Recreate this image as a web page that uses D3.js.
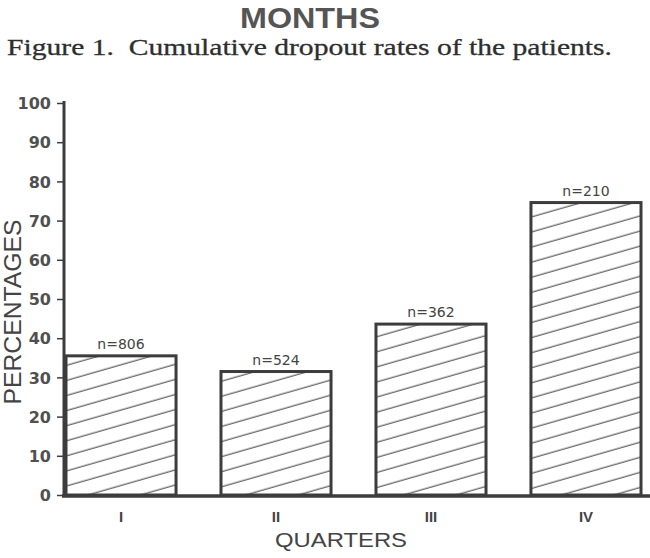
<!DOCTYPE html>
<html><head><meta charset="utf-8">
<script src="https://cdn.jsdelivr.net/npm/d3@7"></script>
<style>body{margin:0;background:#fff}svg{display:block}</style>
</head><body>
<svg id="c" width="650" height="558"></svg>
<script>
const categories = ["I", "II", "III", "IV"];
const values = [35.5, 31.5, 43.6, 74.6];
const nLabels = ["n=806", "n=524", "n=362", "n=210"];
const yTicks = [0, 10, 20, 30, 40, 50, 60, 70, 80, 90, 100];

const ink = "#3c3c3c";
const svg = d3.select("#c");
const y = d3.scaleLinear().domain([0, 100]).range([495, 103]);
const x = d3.scaleBand().domain(categories).range([66, 641]).paddingInner(0.29).paddingOuter(0);

// hatch pattern
const defs = svg.append("defs");
const pat = defs.append("pattern").attr("id", "hatch").attr("patternUnits", "userSpaceOnUse")
  .attr("width", 14.5).attr("height", 14.5).attr("patternTransform", "rotate(-16)");
pat.append("line").attr("x1", 0).attr("y1", 7).attr("x2", 14.5).attr("y2", 7)
  .attr("stroke", "#4a4a4a").attr("stroke-width", 1.1);

// titles
svg.append("text").attr("x", 310).attr("y", 28).attr("text-anchor", "middle")
  .attr("font-family", "Liberation Sans, Arial, sans-serif").attr("font-weight", "bold")
  .attr("font-size", 29).attr("fill", "#555").attr("textLength", 140).attr("lengthAdjust", "spacingAndGlyphs")
  .text("MONTHS");
svg.append("text").attr("x", 7).attr("y", 55)
  .attr("font-family", "Liberation Serif, Times New Roman, serif")
  .attr("font-size", 24).attr("fill", "#2e2e2e").attr("stroke", "#2e2e2e").attr("stroke-width", 0.3)
  .attr("textLength", 605).attr("lengthAdjust", "spacingAndGlyphs")
  .text("Figure 1.\u00a0 Cumulative dropout rates of the patients.");

// bars
const bars = svg.append("g");
bars.selectAll("rect").data(values).join("rect")
  .attr("x", (d, i) => x(categories[i]))
  .attr("y", d => y(d))
  .attr("width", x.bandwidth())
  .attr("height", d => y(0) - y(d))
  .attr("fill", "url(#hatch)")
  .attr("stroke", ink).attr("stroke-width", 3);

// n labels
svg.append("g").selectAll("text").data(nLabels).join("text")
  .attr("x", (d, i) => x(categories[i]) + x.bandwidth() / 2)
  .attr("y", (d, i) => y(values[i]) - 7)
  .attr("text-anchor", "middle")
  .attr("font-family", "DejaVu Sans, sans-serif").attr("font-size", 14).attr("fill", "#444")
  .text(d => d);

// y axis
const yAxis = d3.axisLeft(y).tickValues(yTicks).tickSize(7).tickPadding(6).tickFormat(d3.format("d"));
const ga = svg.append("g").attr("transform", "translate(64,0)").call(yAxis);
ga.select(".domain").remove();
ga.selectAll(".tick line").attr("stroke", ink).attr("stroke-width", 1.5);
ga.selectAll(".tick text").attr("font-family", "DejaVu Sans, sans-serif").attr("font-size", 16)
  .attr("font-weight", "bold").attr("fill", "#505050").attr("dy", "0.36em");
svg.append("line").attr("x1", 64).attr("x2", 64).attr("y1", y(100) - 2).attr("y2", y(0) + 2)
  .attr("stroke", ink).attr("stroke-width", 3);

// baseline (x axis)
const xAxis = d3.axisBottom(x).tickSize(0).tickPadding(16);
const gx = svg.append("g").attr("transform", `translate(0,${y(0)})`).call(xAxis);
gx.select(".domain").remove();
gx.selectAll(".tick text").attr("font-family", "Liberation Sans, Arial, sans-serif")
  .attr("font-size", 15).attr("font-weight", "bold").attr("fill", "#444");
svg.append("line").attr("x1", 62).attr("x2", 650).attr("y1", y(0) + 1).attr("y2", y(0) + 1)
  .attr("stroke", ink).attr("stroke-width", 3.5);

// axis titles
svg.append("text").attr("x", 341).attr("y", 547).attr("text-anchor", "middle")
  .attr("font-family", "Liberation Sans, Arial, sans-serif").attr("font-size", 19.5)
  .attr("fill", "#444").attr("textLength", 132).attr("lengthAdjust", "spacingAndGlyphs")
  .text("QUARTERS");
svg.append("text").attr("transform", "translate(21,312) rotate(-90)").attr("text-anchor", "middle")
  .attr("font-family", "Liberation Sans, Arial, sans-serif").attr("font-size", 23)
  .attr("fill", "#444").attr("textLength", 185).attr("lengthAdjust", "spacingAndGlyphs")
  .text("PERCENTAGES");
</script>
</body></html>
